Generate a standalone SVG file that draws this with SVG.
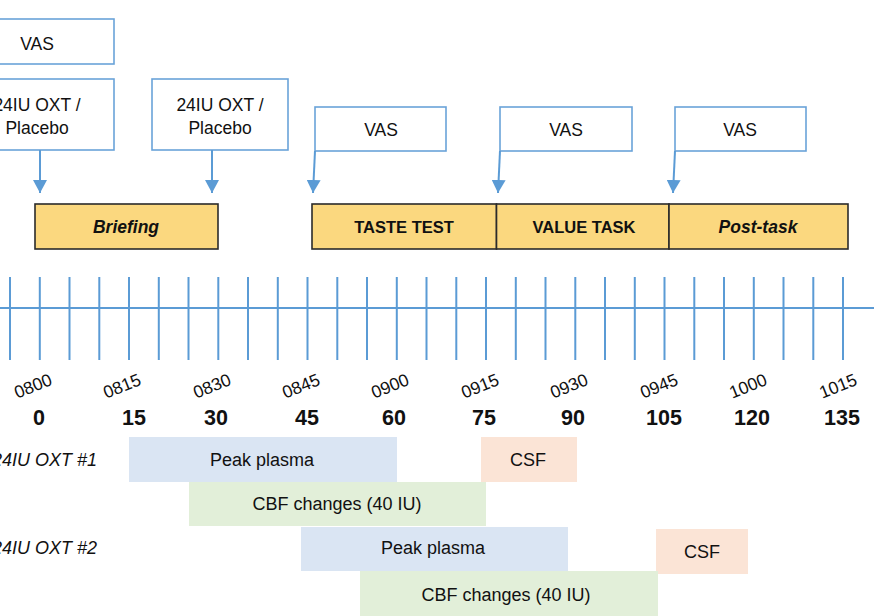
<svg xmlns="http://www.w3.org/2000/svg" width="874" height="616" viewBox="0 0 874 616">
<defs>
<marker id="ah" viewBox="0 0 13 14" refX="13" refY="7" markerWidth="13" markerHeight="14" markerUnits="userSpaceOnUse" orient="auto">
<path d="M0,0 L13,7 L0,14 Z" fill="#5b9bd5"/>
</marker>
<style>
text{font-family:"Liberation Sans",Arial,sans-serif;fill:#111}
.call{fill:#fff;stroke:#6aa3d9;stroke-width:1.6}
.ct{font-size:17.5px;text-anchor:middle}
.task{fill:#fbd87f;stroke:#2b2b2b;stroke-width:1.6}
.tt{font-size:16.5px;font-weight:bold;text-anchor:middle}
.ti{font-size:17.5px;font-weight:bold;font-style:italic;text-anchor:middle}
.conn{stroke:#5b9bd5;stroke-width:2;fill:none}
.axis{stroke:#5b9bd5;stroke-width:2;fill:none}
.time{font-size:17.5px;text-anchor:middle}
.num{font-size:21.5px;font-weight:bold;text-anchor:middle}
.row{font-size:18px;font-style:italic;text-anchor:end}
.bt{font-size:18px;text-anchor:middle}
.pp{fill:#dae5f3}
.cbf{fill:#e2efd9}
.csf{fill:#fbe4d6}
</style>
</defs>
<rect width="874" height="616" fill="#fff"/>

<g id="vas0"><rect class="call" x="-40" y="19" width="154" height="45"/><text class="ct" x="37" y="50">VAS</text></g>
<g id="dose1"><rect class="call" x="-40" y="79" width="154" height="71"/><text class="ct" x="37" y="111">24IU OXT /</text><text class="ct" x="37" y="134">Placebo</text></g>
<g id="dose2"><rect class="call" x="152" y="79" width="136" height="71"/><text class="ct" x="220" y="111">24IU OXT /</text><text class="ct" x="220" y="134">Placebo</text></g>
<g id="vas1"><rect class="call" x="315" y="107" width="131" height="44"/><text class="ct" x="381" y="136">VAS</text></g>
<g id="vas2"><rect class="call" x="500" y="107" width="132" height="44"/><text class="ct" x="566" y="136">VAS</text></g>
<g id="vas3"><rect class="call" x="675" y="107" width="131" height="44"/><text class="ct" x="740" y="136">VAS</text></g>

<g id="briefing"><rect class="task" x="35" y="204" width="183" height="45"/><text class="ti" x="126" y="233">Briefing</text></g>
<g id="taste"><rect class="task" x="312" y="204" width="184.5" height="45"/><text class="tt" x="404" y="233">TASTE TEST</text></g>
<g id="value"><rect class="task" x="496.5" y="204" width="172.5" height="45"/><text class="tt" x="584" y="233">VALUE TASK</text></g>
<g id="posttask"><rect class="task" x="669" y="204" width="179" height="45"/><text class="ti" x="758" y="233">Post-task</text></g>

<g id="connectors">
<path class="conn" d="M40,150 L40,193" marker-end="url(#ah)"/>
<path class="conn" d="M212,150 L212,193" marker-end="url(#ah)"/>
<path class="conn" d="M315,151 L313,193" marker-end="url(#ah)"/>
<path class="conn" d="M500,151 L498,193" marker-end="url(#ah)"/>
<path class="conn" d="M675,151 L673,193" marker-end="url(#ah)"/>
</g>

<g id="timeline">
<line class="axis" x1="0" y1="308" x2="874" y2="308"/>
<path class="axis" d="M10,277V360M39.8,277V360M69.5,277V360M99.3,277V360M129,277V360M158.8,277V360M188.5,277V360M218.3,277V360M248,277V360M277.8,277V360M307.5,277V360M337.3,277V360M367,277V360M396.8,277V360M426.5,277V360M456.3,277V360M486,277V360M515.8,277V360M545.5,277V360M575.3,277V360M605,277V360M634.8,277V360M664.5,277V360M694.3,277V360M724,277V360M753.8,277V360M783.5,277V360M813.3,277V360M843,277V360"/>
<text class="time" x="33" y="392" transform="rotate(-22 33 386)">0800</text>
<text class="time" x="122" y="392" transform="rotate(-22 122 386)">0815</text>
<text class="time" x="212" y="392" transform="rotate(-22 212 386)">0830</text>
<text class="time" x="301" y="392" transform="rotate(-22 301 386)">0845</text>
<text class="time" x="390" y="392" transform="rotate(-22 390 386)">0900</text>
<text class="time" x="480" y="392" transform="rotate(-22 480 386)">0915</text>
<text class="time" x="569" y="392" transform="rotate(-22 569 386)">0930</text>
<text class="time" x="659" y="392" transform="rotate(-22 659 386)">0945</text>
<text class="time" x="748" y="392" transform="rotate(-22 748 386)">1000</text>
<text class="time" x="838" y="392" transform="rotate(-22 838 386)">1015</text>
<text class="num" x="39" y="425">0</text>
<text class="num" x="134" y="425">15</text>
<text class="num" x="216" y="425">30</text>
<text class="num" x="307" y="425">45</text>
<text class="num" x="394" y="425">60</text>
<text class="num" x="484" y="425">75</text>
<text class="num" x="573" y="425">90</text>
<text class="num" x="664" y="425">105</text>
<text class="num" x="752" y="425">120</text>
<text class="num" x="842" y="425">135</text>
</g>

<g id="row1label"><text class="row" x="97" y="466">24IU OXT #1</text></g>
<g id="row2label"><text class="row" x="97" y="554">24IU OXT #2</text></g>

<g id="peak1"><rect class="pp" x="129" y="437" width="268" height="45"/><text class="bt" x="262" y="466">Peak plasma</text></g>
<g id="csf1"><rect class="csf" x="481" y="437" width="96" height="45"/><text class="bt" x="528" y="466">CSF</text></g>
<g id="cbf1"><rect class="cbf" x="189" y="482" width="297" height="44"/><text class="bt" x="337" y="510">CBF changes (40 IU)</text></g>
<g id="peak2"><rect class="pp" x="301" y="527" width="267" height="44"/><text class="bt" x="433" y="554">Peak plasma</text></g>
<g id="csf2"><rect class="csf" x="656" y="529" width="92" height="45"/><text class="bt" x="702" y="558">CSF</text></g>
<g id="cbf2"><rect class="cbf" x="360" y="571" width="298" height="45"/><text class="bt" x="506" y="601">CBF changes (40 IU)</text></g>
</svg>
